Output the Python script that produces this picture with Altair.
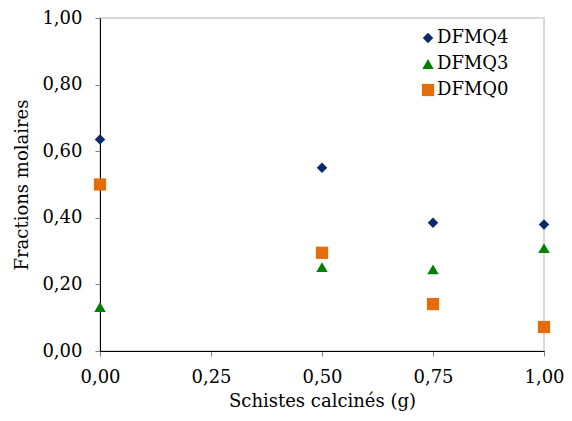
import altair as alt
import pandas as pd

x_vals = [0.0, 0.5, 0.75, 1.0]
dfmq4 = [0.635, 0.55, 0.385, 0.38]
dfmq3 = [0.132, 0.252, 0.245, 0.309]
dfmq0 = [0.50, 0.295, 0.141, 0.072]
series_names = ["DFMQ4", "DFMQ3", "DFMQ0"]
colors = ["#0b2a6b", "#008000", "#e46c0a"]
shapes = ["diamond", "triangle-up", "square"]
sizes = [110, 150, 115]

rows = []
for name, vals in zip(series_names, [dfmq4, dfmq3, dfmq0]):
    for xv, yv in zip(x_vals, vals):
        rows.append({"x": xv, "y": yv, "serie": name})
df = pd.DataFrame(rows)

FONT = "DejaVu Serif"
FS = 18
fmt = "replace(format(datum.value, '.2f'), '.', ',')"

chart = alt.Chart(df).mark_point(filled=True, opacity=1).encode(
    x=alt.X("x:Q", scale=alt.Scale(domain=[0, 1], nice=False),
            axis=alt.Axis(values=[0, 0.25, 0.5, 0.75, 1.0], labelExpr=fmt,
                          title="Schistes calcinés (g)", grid=False, labelFlush=False,
                          domainColor="black", tickColor="#808080", tickSize=5,
                          labelFont=FONT, labelFontSize=FS, labelColor="black",
                          titleFont=FONT, titleFontSize=FS, titleFontWeight="normal",
                          titleColor="black", labelPadding=12, titlePadding=6)),
    y=alt.Y("y:Q", scale=alt.Scale(domain=[0, 1], nice=False),
            axis=alt.Axis(values=[0, 0.2, 0.4, 0.6, 0.8, 1.0], labelExpr=fmt,
                          title="Fractions molaires", grid=False, labelFlush=False,
                          domainColor="black", tickColor="#808080", tickSize=5,
                          labelFont=FONT, labelFontSize=FS, labelColor="black",
                          titleFont=FONT, titleFontSize=FS, titleFontWeight="normal",
                          titleColor="black", labelPadding=13, titlePadding=10)),
    color=alt.Color("serie:N", sort=series_names,
                    scale=alt.Scale(domain=series_names, range=colors),
                    legend=alt.Legend(title=None, orient="none", legendX=319, legendY=11,
                                      labelFont=FONT, labelFontSize=FS, labelColor="black",
                                      symbolSize=110, rowPadding=8, labelOffset=0)),
    shape=alt.Shape("serie:N", sort=series_names,
                    scale=alt.Scale(domain=series_names, range=shapes)),
    size=alt.Size("serie:N", sort=series_names, legend=None,
                  scale=alt.Scale(domain=series_names, range=sizes)),
).properties(
    width=444, height=333,
    autosize=alt.AutoSizeParams(type="none"),
    padding={"left": 92, "top": 10, "right": 20, "bottom": 62},
).configure(background="white").configure_view(stroke="#d9d9d9", strokeWidth=2)

chart.save("out.html", embed_options={"renderer": "svg", "actions": False})
